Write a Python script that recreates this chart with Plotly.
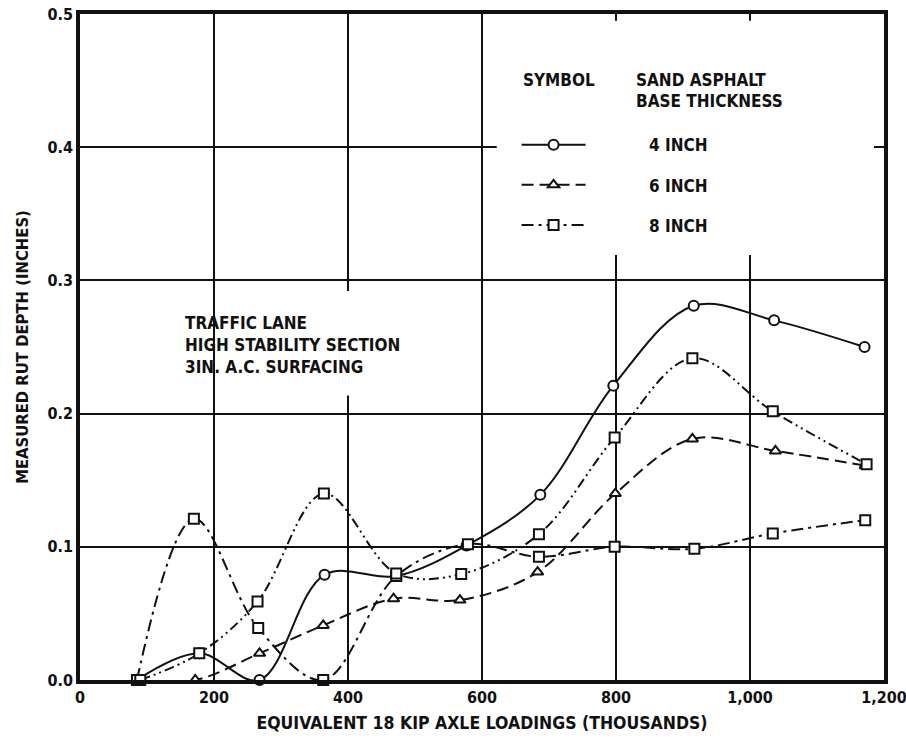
import plotly.graph_objects as go

# ---- data ----
x_tick_vals = [0, 200, 400, 600, 800, 1000, 1200]
x_tick_text = ["0", "200", "400", "600", "800", "1,000", "1,200"]
y_tick_vals = [0.0, 0.1, 0.2, 0.3, 0.4, 0.5]
y_tick_text = ["0.0", "0.1", "0.2", "0.3", "0.4", "0.5"]

x_4in = [85, 178, 268, 365, 472, 577, 687, 796, 916, 1036, 1171]
y_4in = [0.0, 0.020, 0.0, 0.079, 0.078, 0.101, 0.139, 0.221, 0.281, 0.270, 0.250]

x_6in = [85, 172, 268, 363, 468, 567, 683, 799, 914, 1038, 1172]
y_6in = [0.0, 0.0, 0.020, 0.041, 0.061, 0.060, 0.081, 0.140, 0.181, 0.172, 0.161]

x_8in_a = [85, 170, 266, 363, 472, 579, 685, 798, 917, 1034, 1172]
y_8in_a = [0.0, 0.121, 0.039, 0.0, 0.078, 0.102, 0.0925, 0.100, 0.0985, 0.110, 0.120]

x_8in_b = [90, 178, 265, 364, 472, 569, 685, 798, 914, 1034, 1174]
y_8in_b = [0.0, 0.020, 0.059, 0.140, 0.080, 0.0795, 0.1095, 0.182, 0.2416, 0.2017, 0.162]

FONT = "DejaVu Sans Condensed"
INK = "#111111"
PAD = "\u00a0" * 11

fig = go.Figure()

def add(x, y, name, symbol, dash, show=True, group=None):
    fig.add_trace(go.Scatter(
        x=x, y=y, name=name, mode="lines+markers",
        line=dict(color=INK, width=2, dash=dash, shape="spline", smoothing=1.0),
        marker=dict(symbol=symbol, size=10, color="white",
                    line=dict(color=INK, width=2)),
        showlegend=show, legendgroup=group or name, cliponaxis=False,
    ))

add(x_4in, y_4in, PAD + "4 INCH", "circle", "solid")
add(x_6in, y_6in, PAD + "6 INCH", "triangle-up", "12px,6px")
add(x_8in_a, y_8in_a, PAD + "8 INCH", "square", "12px,5px,3px,5px", group="8")
add(x_8in_b, y_8in_b, "8 INCH b", "square", "10px,4px,2px,4px,2px,4px", show=False, group="8")

def bold(size):
    return dict(family=FONT, size=size, color=INK, weight="bold")

axis_common = dict(
    showline=True, linecolor=INK, linewidth=3.5, mirror=True,
    showgrid=True, gridcolor=INK, gridwidth=1.5,
    zeroline=False, ticks="", ticklabeloverflow="allow",
    tickfont=bold(16), automargin=False,
)

fig.update_layout(
    width=906, height=744,
    margin=dict(l=80, r=22, t=14, b=64),
    paper_bgcolor="white", plot_bgcolor="white",
    font=dict(family=FONT, color=INK),
    xaxis=dict(range=[0, 1200], tickvals=x_tick_vals, ticktext=x_tick_text,
               title=dict(text="EQUIVALENT 18 KIP AXLE LOADINGS (THOUSANDS)",
                          font=bold(17.5), standoff=12),
               **axis_common),
    yaxis=dict(range=[0, 0.5], tickvals=y_tick_vals, ticktext=y_tick_text,
               title=dict(text="MEASURED RUT DEPTH (INCHES)",
                          font=bold(16.5), standoff=16),
               **axis_common),
    legend=dict(x=0.543, y=0.83, xanchor="left", yanchor="top",
                bgcolor="rgba(0,0,0,0)", borderwidth=0,
                font=bold(17),
                itemwidth=64, tracegroupgap=15, traceorder="grouped"),
    shapes=[
        dict(type="rect", xref="x", yref="y", x0=622, x1=1185, y0=0.319, y1=0.495,
             fillcolor="white", line=dict(width=0), layer="between"),
        dict(type="rect", xref="x", yref="y", x0=385, x1=415, y0=0.2135, y1=0.292,
             fillcolor="white", line=dict(width=0), layer="between"),
    ],
    annotations=[
        dict(text="SYMBOL", xref="paper", yref="paper", x=0.549, y=0.9005,
             xanchor="left", yanchor="middle", showarrow=False, font=bold(17)),
        dict(text="SAND ASPHALT", xref="paper", yref="paper",
             x=0.689, y=0.9005, xanchor="left", yanchor="middle",
             showarrow=False, font=bold(17)),
        dict(text="BASE THICKNESS", xref="paper", yref="paper",
             x=0.689, y=0.8695, xanchor="left", yanchor="middle",
             showarrow=False, font=bold(17)),
        dict(text="TRAFFIC LANE<br>HIGH STABILITY SECTION<br>3IN. A.C. SURFACING",
             xref="paper", yref="paper", x=0.128, y=0.5535,
             xanchor="left", yanchor="top", align="left", showarrow=False,
             font=bold(17)),
    ],
)

fig.write_html("out.html")
